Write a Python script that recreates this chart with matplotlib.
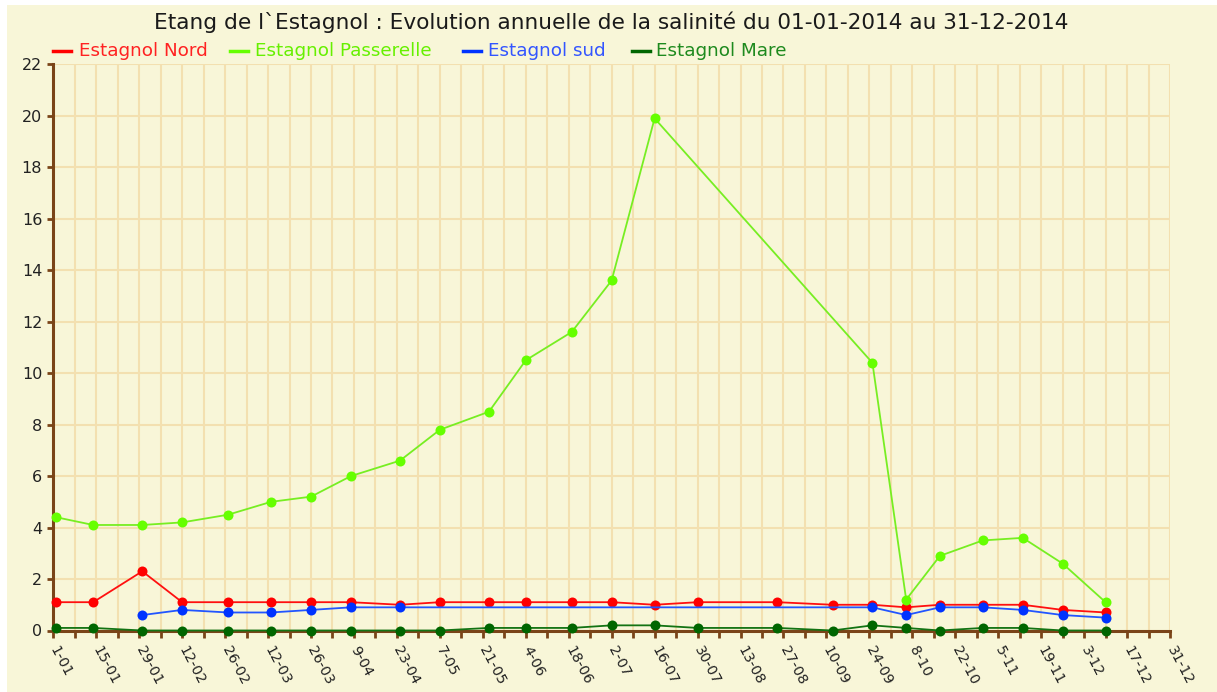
import matplotlib
matplotlib.use("Agg")
import matplotlib.pyplot as plt
from matplotlib.lines import Line2D
from matplotlib.patches import Rectangle
import pandas as pd
import numpy as np

title = "Etang de l`Estagnol : Evolution annuelle de la salinité du 01-01-2014 au 31-12-2014"
series_names = ["Estagnol Nord", "Estagnol Passerelle", "Estagnol sud", "Estagnol Mare"]

dates_all = ["2014-01-02", "2014-01-14", "2014-01-30", "2014-02-12", "2014-02-27",
             "2014-03-13", "2014-03-26", "2014-04-08", "2014-04-24", "2014-05-07",
             "2014-05-23", "2014-06-04", "2014-06-19", "2014-07-02", "2014-07-16",
             "2014-07-30", "2014-08-25", "2014-09-12", "2014-09-25", "2014-10-06",
             "2014-10-17", "2014-10-31", "2014-11-13", "2014-11-26", "2014-12-10"]

nord_dates = dates_all
nord_vals = [1.1, 1.1, 2.3, 1.1, 1.1, 1.1, 1.1, 1.1, 1.0, 1.1, 1.1, 1.1, 1.1,
             1.1, 1.0, 1.1, 1.1, 1.0, 1.0, 0.9, 1.0, 1.0, 1.0, 0.8, 0.7]

pass_dates = ["2014-01-02", "2014-01-14", "2014-01-30", "2014-02-12", "2014-02-27",
              "2014-03-13", "2014-03-26", "2014-04-08", "2014-04-24", "2014-05-07",
              "2014-05-23", "2014-06-04", "2014-06-19", "2014-07-02", "2014-07-16",
              "2014-09-25", "2014-10-06", "2014-10-17", "2014-10-31", "2014-11-13",
              "2014-11-26", "2014-12-10"]
pass_vals = [4.4, 4.1, 4.1, 4.2, 4.5, 5.0, 5.2, 6.0, 6.6, 7.8, 8.5, 10.5, 11.6,
             13.6, 19.9, 10.4, 1.2, 2.9, 3.5, 3.6, 2.6, 1.1]

sud_dates = ["2014-01-30", "2014-02-12", "2014-02-27", "2014-03-13", "2014-03-26",
             "2014-04-08", "2014-04-24", "2014-09-25", "2014-10-06", "2014-10-17",
             "2014-10-31", "2014-11-13", "2014-11-26", "2014-12-10"]
sud_vals = [0.6, 0.8, 0.7, 0.7, 0.8, 0.9, 0.9, 0.9, 0.6, 0.9, 0.9, 0.8, 0.6, 0.5]

mare_dates = dates_all
mare_vals = [0.1, 0.1, 0.0, 0.0, 0.0, 0.0, 0.0, 0.0, 0.0, 0.0, 0.1, 0.1, 0.1,
             0.2, 0.2, 0.1, 0.1, 0.0, 0.2, 0.1, 0.0, 0.1, 0.1, 0.0, 0.0]

tick_labels = ["1-01", "15-01", "29-01", "12-02", "26-02", "12-03", "26-03", "9-04",
               "23-04", "7-05", "21-05", "4-06", "18-06", "2-07", "16-07", "30-07",
               "13-08", "27-08", "10-09", "24-09", "8-10", "22-10", "5-11", "19-11",
               "3-12", "17-12", "31-12"]

start = pd.Timestamp("2014-01-01")
def to_days(ds):
    return [(pd.Timestamp(d) - start).days for d in ds]

line_colors = ["#FF1010", "#77EE22", "#2255FF", "#137313"]
marker_colors = ["#FF0000", "#66FF00", "#0033FF", "#006600"]
text_colors = ["#FF2222", "#66F000", "#3355FF", "#1E8A1E"]

bg = "#F8F6D8"
grid_c = "#F3E0B0"
spine_c = "#7A4418"

W, H = 1217, 692
fig = plt.figure(figsize=(W / 100, H / 100), dpi=100)
fig.patch.set_facecolor("white")
fig.patches.append(Rectangle((7 / W, 0), 1, 1 - 5 / H, transform=fig.transFigure,
                             facecolor=bg, edgecolor="none", zorder=-10))

left, right, top, bottom = 53.3, 1170, 64.3, 630.5
ax = fig.add_axes([left / W, 1 - bottom / H, (right - left) / W, (bottom - top) / H])
ax.set_facecolor(bg)
ax.set_xlim(0, 364)
ax.set_ylim(0, 22)

ax.set_xticks(np.arange(0, 365, 14))
ax.set_xticks(np.arange(7, 365, 14), minor=True)
ax.set_xticklabels(tick_labels)
ax.set_yticks(np.arange(0, 23, 2))

ax.grid(True, which="both", axis="x", color=grid_c, lw=1.5, zorder=0)
ax.grid(True, which="major", axis="y", color=grid_c, lw=1.5, zorder=0)
ax.set_axisbelow(True)

for s in ["top", "right"]:
    ax.spines[s].set_visible(False)
for s in ["left", "bottom"]:
    ax.spines[s].set_color(spine_c)
    ax.spines[s].set_linewidth(2.2)
    ax.spines[s].set_zorder(2)

ax.tick_params(axis="x", which="both", direction="out", length=5, width=2, color=spine_c,
               labelsize=10.3, labelcolor="#222222", pad=7)
ax.tick_params(axis="y", which="major", direction="out", length=4, width=2, color=spine_c,
               labelsize=11.5, labelcolor="#222222", pad=4)
for lab in ax.get_xticklabels():
    lab.set_rotation(-62)
    lab.set_ha("left")
    lab.set_va("center")
    lab.set_rotation_mode("anchor")

all_dates = [nord_dates, pass_dates, sud_dates, mare_dates]
all_vals = [nord_vals, pass_vals, sud_vals, mare_vals]
for i in range(4):
    ax.plot(to_days(all_dates[i]), all_vals[i], color=line_colors[i], lw=1.3,
            marker="o", markersize=7.2, markerfacecolor=marker_colors[i],
            markeredgecolor=marker_colors[i], markeredgewidth=0,
            clip_on=False, zorder=3 + i)

fig.text(611 / W, 1 - 22 / H, title, ha="center", va="center", fontsize=15.6,
         color="#1a1a1a")

leg_line_x = [53, 230, 463, 632]
leg_text_x = [79, 255, 488, 656]
ly = 1 - 51 / H
for i in range(4):
    fig.lines.append(Line2D([leg_line_x[i] / W, (leg_line_x[i] + 18) / W], [ly, ly],
                            transform=fig.transFigure, color=marker_colors[i], lw=2.5))
    fig.text(leg_text_x[i] / W, ly, series_names[i], ha="left", va="center",
             fontsize=13.2, color=text_colors[i])

fig.savefig("out.png", dpi=100, facecolor=fig.get_facecolor())
